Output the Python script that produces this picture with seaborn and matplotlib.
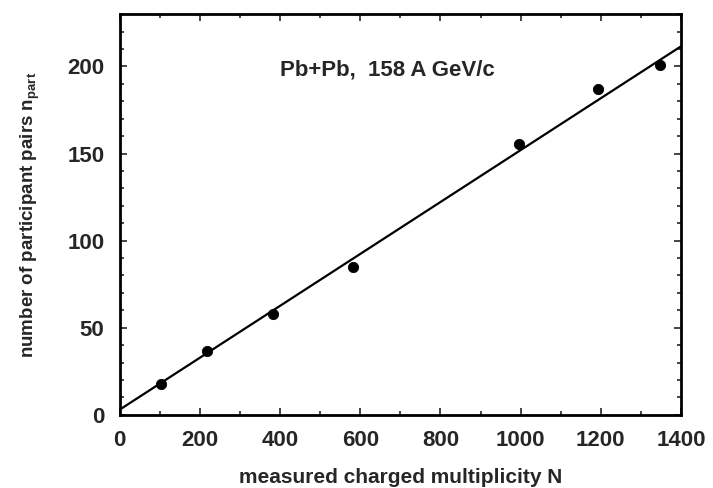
import matplotlib
matplotlib.use('Agg')
import matplotlib.pyplot as plt
from matplotlib.ticker import MultipleLocator
import seaborn as sns
import pandas as pd

# Dados
multiplicidade = [102, 217, 382, 581, 996, 1193, 1348]
n_part = [17.8, 36.8, 58, 85, 155.7, 186.8, 200.6]

# Reta de ajuste (extremos)
ajuste_x = [0, 1400]
ajuste_y = [3, 211.5]

sns.set_theme(style='ticks')
plt.rcParams['font.family'] = ['Liberation Sans', 'DejaVu Sans']
plt.rcParams['font.weight'] = 'bold'
plt.rcParams['mathtext.default'] = 'regular'

df = pd.DataFrame({'N': multiplicidade, 'npart': n_part})
df_ajuste = pd.DataFrame({'N': ajuste_x, 'npart': ajuste_y})

fig = plt.figure(figsize=(7.13, 4.88), dpi=100)
ax = fig.add_axes([0.168, 0.150, 0.787, 0.821])

sns.lineplot(data=df_ajuste, x='N', y='npart', color='black', linewidth=1.6, ax=ax)
sns.scatterplot(data=df, x='N', y='npart', color='black', s=55, edgecolor='black', ax=ax, zorder=3)

ax.set_xlim(0, 1400)
ax.set_ylim(0, 230)
ax.xaxis.set_major_locator(MultipleLocator(200))
ax.xaxis.set_minor_locator(MultipleLocator(100))
ax.yaxis.set_major_locator(MultipleLocator(50))
ax.yaxis.set_minor_locator(MultipleLocator(10))
ax.tick_params(which='both', direction='in', top=True, right=True, labelsize=16, width=1.2)
ax.tick_params(axis='x', pad=11)
ax.tick_params(axis='y', pad=11)
ax.tick_params(which='major', length=5)
ax.tick_params(which='minor', length=3)
for s in ax.spines.values():
    s.set_linewidth(2)
    s.set_color('black')

ax.set_xlabel('measured charged multiplicity N', fontsize=15, fontweight='bold', labelpad=12)
ax.set_ylabel('number of participant pairs n$_{\\mathregular{part}}$', fontsize=13.5, fontweight='bold', labelpad=18)
ax.text(400, 198, 'Pb+Pb,  158 A GeV/c', fontsize=16, fontweight='bold', va='center', ha='left')

plt.savefig('out.png', dpi=100)
